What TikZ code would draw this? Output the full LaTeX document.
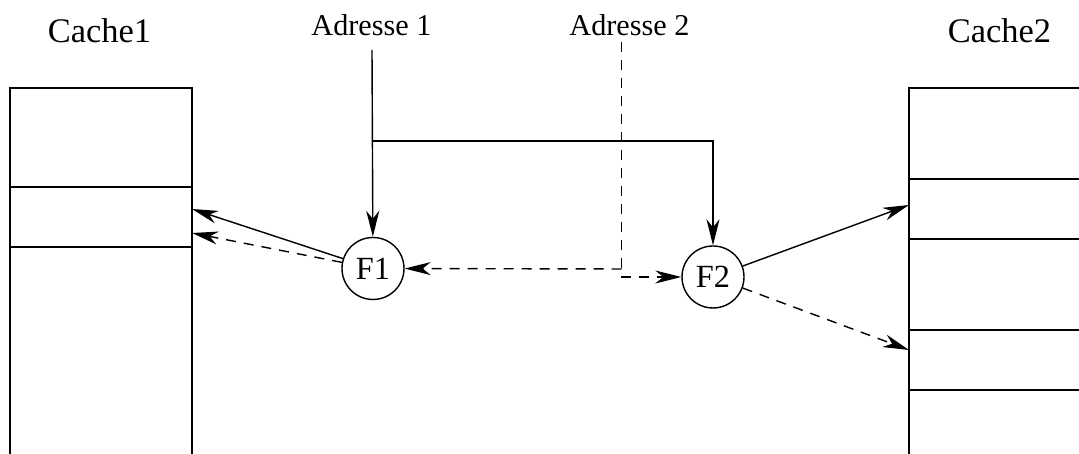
\documentclass[tikz,border=0pt]{standalone}
\usepackage{fontspec}
\setmainfont{Liberation Serif}
\usetikzlibrary{arrows.meta}

\begin{document}
\begin{tikzpicture}[>={Stealth[length=2.6mm,width=1.3mm,inset=0.8mm]},
    line width=0.4pt,
    tiret/.style={dash pattern=on 1mm off 0.8mm},
    filtre/.style={draw,circle,minimum size=0.62cm,inner sep=0pt,font=\fontsize{9.2}{11}\selectfont},
    titre/.style={anchor=base,font=\fontsize{9.8}{11}\selectfont},
    adr/.style={anchor=base,font=\fontsize{8.6}{10}\selectfont}]
            \useasboundingbox (0,0) rectangle (10.79,4.54);
            % les deux caches
            \node[titre] (c1) at (0.995,4.11) {Cache1};
            \node[titre] (c2) at (9.995,4.11) {Cache2};
            \draw (0.10,0) -- (0.10,3.66) -- (1.92,3.66) -- (1.92,0);
            \draw (0.10,2.67) -- (1.92,2.67);
            \draw (0.10,2.07) -- (1.92,2.07);
            \draw (10.79,3.66) -- (9.09,3.66) -- (9.09,0);
            \foreach \y in {2.75,2.15,1.24,0.64}
                \draw (9.09,\y) -- (10.79,\y);
            % adresses et filtres
            \node[adr] (a1) at (3.715,4.18) {Adresse 1};
            \node[adr] (a2) at (6.295,4.18) {Adresse 2};
            \node[filtre] (f1) at (3.73,1.855) {F1};
            \node[filtre] (f2) at (7.13,1.77) {F2};
            \coordinate (a1b) at (3.72,4.04);
            \coordinate (br) at (3.72,3.13);
            \coordinate (a2b) at (6.217,4.12);
            \coordinate (a2m) at (6.217,1.85);
            \coordinate (a2f) at (6.217,1.77);
            \draw[->] (a1b) -- (f1);
            \draw[->] (br) -| (f2);
            \draw[tiret,->] (a2b) -- (a2f) -- (f2);
            \draw[tiret,->] (a2m) -- (f1);
            % vers les caches
            \coordinate (c1h) at (1.92,2.45);
            \coordinate (c1b) at (1.92,2.21);
            \coordinate (c2h) at (9.09,2.49);
            \coordinate (c2b) at (9.09,1.04);
            \draw[->] (f1) -- (c1h);
            \draw[tiret,->] (f1) -- (c1b);
            \draw[->] (f2) -- (c2h);
            \draw[tiret,->] (f2) -- (c2b);
        \end{tikzpicture}
\end{document}
